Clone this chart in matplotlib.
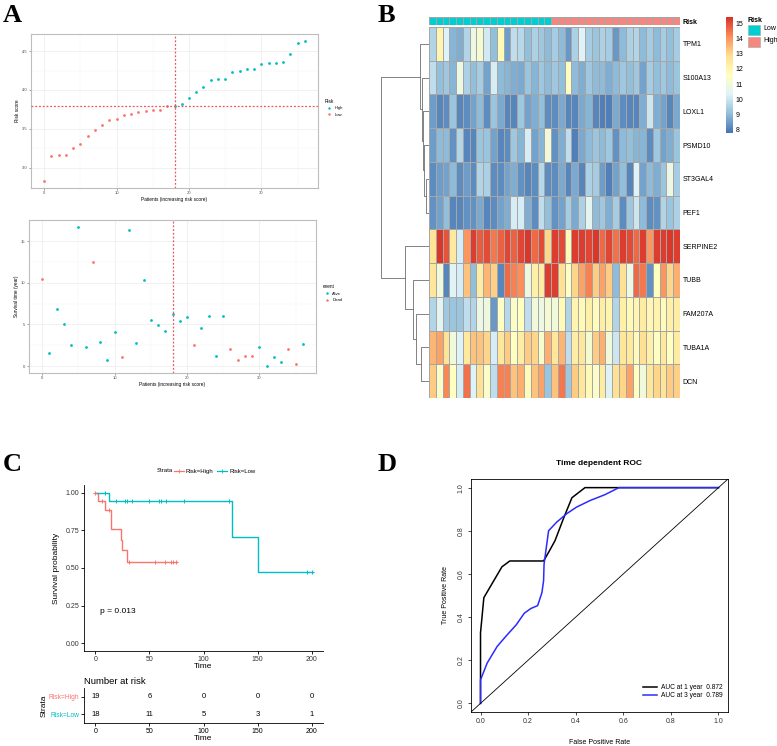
import numpy as np
import matplotlib
matplotlib.use("Agg")
import matplotlib.pyplot as plt
from matplotlib.colors import LinearSegmentedColormap, ListedColormap
from matplotlib.lines import Line2D
from matplotlib.patches import Rectangle

plt.rcParams['font.family'] = ['Liberation Sans', 'DejaVu Sans']

W, H = 777, 746
RED = '#F8766D'
CYAN = '#00BFC4'

# ---------------- panel A data ----------------
risk_score = [2.83, 3.146, 3.16, 3.17, 3.25, 3.30, 3.41, 3.48, 3.545, 3.61,
              3.63, 3.68, 3.69, 3.72, 3.725, 3.74, 3.74, 3.79, 3.80, 3.815,
              3.90, 3.98, 4.04, 4.125, 4.14, 4.14, 4.23, 4.245, 4.27, 4.275,
              4.33, 4.35, 4.35, 4.355, 4.46, 4.60, 4.63]
risk_group = ['Low'] * 18 + ['High'] * 19
risk_cut = 3.795
cut_patient = 18

surv_time = [10.52, 1.6, 6.84, 5.08, 2.52, 16.72, 2.32, 12.56, 2.84, 0.76,
             4.12, 1.08, 16.32, 2.8, 10.32, 5.48, 4.92, 4.2, 6.2, 5.4,
             5.88, 2.48, 4.6, 6.0, 1.16, 6.0, 2.0, 0.72, 1.16, 1.16,
             2.32, 0.0, 1.12, 0.52, 2.08, 0.2, 2.64]
surv_event = ['Dead', 'Alive', 'Alive', 'Alive', 'Alive', 'Alive', 'Alive', 'Dead', 'Alive', 'Alive',
              'Alive', 'Dead', 'Alive', 'Alive', 'Alive', 'Alive', 'Alive', 'Alive', 'Alive', 'Alive',
              'Alive', 'Dead', 'Alive', 'Alive', 'Alive', 'Alive', 'Dead', 'Dead', 'Dead', 'Dead',
              'Alive', 'Alive', 'Alive', 'Alive', 'Dead', 'Dead', 'Alive']

# ---------------- panel B data ----------------
genes = ['TPM1', 'S100A13', 'LOXL1', 'PSMD10', 'ST3GAL4', 'PEF1',
         'SERPINE2', 'TUBB', 'FAM207A', 'TUBA1A', 'DCN']
sample_risk = ['Low'] * 18 + ['High'] * 19
TPM1 = [9.6, 12.0, 10.3, 8.9, 8.8, 9.6, 10.8, 11.2, 10.1, 9.1, 11.8, 8.5, 9.8, 9.7, 9.1, 9.5, 9.3, 9.0,
        9.4, 9.0, 8.4, 9.5, 10.3, 9.4, 9.2, 9.5, 9.4, 8.4, 9.0, 9.5, 9.6, 9.0, 9.4, 9.0, 9.4, 9.1, 9.4]
S100A13 = [9.8, 9.1, 9.3, 8.9, 10.8, 9.5, 9.1, 9.4, 8.6, 10.2, 9.0, 8.9, 8.8, 8.7, 9.2, 8.9, 9.3, 9.0,
           9.3, 9.1, 11.5, 9.0, 8.8, 9.3, 9.0, 9.0, 8.8, 9.0, 9.3, 9.1, 9.3, 8.6, 9.4, 9.1, 9.3, 9.0, 9.2]
LOXL1 = [8.5, 8.1, 8.2, 9.2, 8.1, 8.2, 8.6, 9.0, 8.2, 9.2, 8.7, 8.1, 8.1, 9.3, 8.6, 8.8, 9.1, 8.2,
         8.2, 8.7, 8.1, 8.1, 8.7, 8.9, 8.1, 8.0, 8.0, 8.7, 8.2, 8.1, 8.1, 8.8, 10.0, 8.8, 8.6, 8.1, 8.7]
PSMD10 = [8.5, 9.0, 9.0, 8.3, 9.6, 8.1, 8.1, 9.2, 9.2, 8.6, 8.1, 8.2, 9.3, 8.9, 10.2, 8.6, 8.9, 11.0,
          8.3, 8.8, 9.8, 8.0, 8.7, 9.0, 9.2, 9.0, 9.3, 8.3, 9.0, 9.1, 8.9, 8.9, 8.2, 9.3, 8.6, 8.8, 9.2]
ST3GAL4 = [8.2, 8.5, 8.6, 9.0, 8.2, 8.5, 8.2, 9.6, 9.5, 8.2, 8.2, 8.6, 8.8, 8.3, 8.1, 8.2, 9.7, 8.2,
           8.2, 8.7, 8.1, 8.7, 8.1, 9.5, 9.4, 8.5, 8.0, 8.6, 9.1, 8.1, 10.3, 8.6, 9.0, 8.8, 9.2, 10.8, 9.4]
PEF1 = [8.3, 8.6, 9.1, 8.1, 8.1, 8.3, 8.3, 8.7, 8.1, 8.2, 8.6, 8.8, 10.2, 10.2, 8.8, 8.2, 9.8, 9.1,
        8.3, 8.6, 9.4, 8.7, 9.5, 10.5, 9.0, 9.3, 8.8, 9.4, 8.2, 9.3, 10.0, 9.0, 8.2, 8.3, 9.6, 9.2, 9.5]
SERPINE2 = [12.7, 15.3, 14.9, 12.5, 10.2, 14.0, 15.2, 14.8, 15.0, 14.4, 14.7, 15.1, 14.7, 15.1, 15.3, 14.6, 15.0, 13.0,
            15.2, 15.0, 11.8, 15.2, 15.2, 15.1, 15.3, 14.6, 15.1, 14.5, 15.2, 15.0, 14.6, 15.2, 14.0, 15.2, 15.2, 15.3, 15.2]
TUBB = [12.6, 11.0, 8.1, 10.4, 10.2, 13.3, 9.1, 12.4, 13.5, 13.1, 8.1, 14.6, 14.3, 14.1, 10.9, 12.2, 12.4, 15.2,
        15.2, 12.8, 11.5, 13.0, 13.8, 14.3, 13.2, 13.8, 13.2, 9.0, 12.8, 10.8, 14.6, 14.4, 8.3, 11.6, 14.0, 13.0, 13.6]
FAM207A = [9.6, 10.5, 9.3, 9.2, 9.2, 9.8, 9.6, 10.8, 10.9, 8.4, 11.5, 9.7, 11.4, 11.6, 9.8, 11.0, 10.8, 11.2,
           11.0, 11.8, 9.6, 12.0, 11.8, 12.2, 11.7, 12.3, 12.0, 9.6, 12.2, 11.8, 12.0, 12.4, 11.9, 12.1, 11.7, 12.2, 12.3]
TUBA1A = [13.5, 13.8, 12.7, 11.0, 10.3, 12.5, 13.3, 13.3, 13.0, 10.2, 12.6, 13.2, 11.6, 12.3, 13.2, 13.0, 11.3, 13.6,
          12.6, 13.5, 9.8, 12.3, 12.6, 11.2, 13.2, 13.6, 11.0, 10.0, 12.6, 12.5, 11.7, 12.8, 12.2, 11.5, 12.5, 11.6, 12.4]
DCN = [13.2, 11.4, 14.2, 11.6, 10.2, 14.5, 10.3, 12.8, 11.4, 9.8, 14.3, 14.3, 13.3, 13.6, 11.8, 13.3, 13.8, 9.2,
       13.3, 14.4, 9.3, 13.2, 12.6, 11.8, 11.4, 12.4, 10.3, 12.8, 13.0, 13.8, 11.6, 11.0, 12.6, 13.0, 12.7, 13.2, 13.1]
# row clustering: (left, right, height); new nodes numbered from 11
row_merges = [(4, 5, 3.5), (3, 11, 5), (2, 12, 6), (1, 13, 7), (0, 14, 9),
              (9, 10, 8), (8, 16, 13), (7, 17, 16), (6, 18, 24), (15, 19, 48)]

# ---------------- panel C data ----------------
high_t = [0, 2.1, 8.9, 14.1, 23.5, 25.0, 29.0, 75.8]
high_s = [1.0, 0.945, 0.885, 0.76, 0.687, 0.621, 0.542, 0.542]
high_cens_t = [0, 6.5, 13.0, 31.5, 55.5, 64.5, 69.5, 72.0, 74.5]
high_cens_s = [1.0, 0.945, 0.885, 0.542, 0.542, 0.542, 0.542, 0.542, 0.542]
low_t = [0, 12.8, 126.0, 150.5, 201.0]
low_s = [1.0, 0.943, 0.705, 0.471, 0.471]
low_cens_t = [9.0, 19.0, 27.5, 29.5, 33.5, 50.0, 59.0, 61.0, 65.0, 82.0, 124.0, 195.5, 200.5]
low_cens_s = [1.0, 0.943, 0.943, 0.943, 0.943, 0.943, 0.943, 0.943, 0.943, 0.943, 0.943, 0.471, 0.471]
risk_times = [0, 50, 100, 150, 200]
n_risk_high = [19, 6, 0, 0, 0]
n_risk_low = [18, 11, 5, 3, 1]

# ---------------- panel D data ----------------
roc1_fpr = [0.0, 0.0, 0.014, 0.09, 0.123, 0.265, 0.286, 0.313, 0.348, 0.384, 0.439, 1.0]
roc1_tpr = [0.0, 0.327, 0.49, 0.633, 0.66, 0.66, 0.70, 0.754, 0.855, 0.953, 1.0, 1.0]
roc3_fpr = [0.0, 0.0, 0.028, 0.07, 0.109, 0.15, 0.184, 0.212, 0.24, 0.258, 0.265, 0.267,
            0.286, 0.32, 0.362, 0.404, 0.46, 0.522, 0.582, 1.0]
roc3_tpr = [0.0, 0.109, 0.187, 0.264, 0.314, 0.364, 0.418, 0.44, 0.453, 0.513, 0.568, 0.645,
            0.80, 0.84, 0.879, 0.91, 0.94, 0.967, 1.0, 1.0]
auc_labels = ['AUC at 1 year  0.872', 'AUC at 3 year  0.789']


def rect(l, t, r, b):
    return [l / W, 1 - b / H, (r - l) / W, (b - t) / H]


def gg_style(ax):
    for s in ax.spines.values():
        s.set_color('#BDBDBD')
        s.set_linewidth(0.8)
    ax.grid(True, which='major', color='#EBEBEB', lw=0.5)
    ax.grid(True, which='minor', color='#F5F5F5', lw=0.3)
    ax.set_axisbelow(True)
    ax.tick_params(which='major', length=1.5, width=0.4, color='#555555',
                   labelsize=3, labelcolor='#4D4D4D', pad=1)
    ax.tick_params(which='minor', length=0)


fig = plt.figure(figsize=(W / 100, H / 100), dpi=100)

for lab, x, y in [('A', 3, 22), ('B', 378, 22), ('C', 3, 471), ('D', 378, 471)]:
    fig.text(x / W, 1 - y / H, lab, fontsize=19, fontweight='bold',
             family='Liberation Serif', va='baseline')

# ---- A top: risk score
ax = fig.add_axes(rect(31, 34, 318, 188))
gg_style(ax)
pat = np.arange(len(risk_score))
rs = np.array(risk_score)
grp = np.array(risk_group)
ax.scatter(pat[grp == 'High'], rs[grp == 'High'], s=4, color=CYAN, lw=0, zorder=3)
ax.scatter(pat[grp == 'Low'], rs[grp == 'Low'], s=4, color=RED, lw=0, zorder=3)
ax.axvline(cut_patient, color='#E8575A', ls=(0, (1.5, 1.5)), lw=0.9, zorder=4)
ax.axhline(risk_cut, color='#E8575A', ls=(0, (1.5, 1.5)), lw=0.9, zorder=4)
ax.set_xlim(-1.8, 37.8)
ax.set_ylim(2.74, 4.72)
ax.set_xticks([0, 10, 20, 30])
ax.set_xticks([5, 15, 25, 35], minor=True)
ax.set_yticks([3.0, 3.5, 4.0, 4.5])
ax.set_yticks([3.25, 3.75, 4.25], minor=True)
ax.set_xlabel('Patients (increasing risk score)', fontsize=3.4, labelpad=1)
ax.set_ylabel('Risk score', fontsize=3.4, labelpad=1.5)
h = [Line2D([], [], marker='o', ls='', ms=1.8, color=c, mew=0) for c in (CYAN, RED)]
leg = ax.legend(h, ['High', 'Low'], title='Risk', loc='center left', bbox_to_anchor=(1.01, 0.52),
                frameon=False, fontsize=3, title_fontsize=3.4, handletextpad=0.3, labelspacing=0.6)
leg._legend_box.align = 'left'

# ---- A bottom: survival time
ax = fig.add_axes(rect(29, 220, 316, 373))
gg_style(ax)
st = np.array(surv_time)
ev = np.array(surv_event)
ax.scatter(pat[ev == 'Alive'], st[ev == 'Alive'], s=4, color=CYAN, lw=0, zorder=3)
ax.scatter(pat[ev == 'Dead'], st[ev == 'Dead'], s=4, color=RED, lw=0, zorder=3)
ax.axvline(cut_patient, color='#E8575A', ls=(0, (1.5, 1.5)), lw=0.9, zorder=4)
ax.set_xlim(-1.8, 37.8)
ax.set_ylim(-0.84, 17.56)
ax.set_xticks([0, 10, 20, 30])
ax.set_xticks([5, 15, 25, 35], minor=True)
ax.set_yticks([0, 5, 10, 15])
ax.set_yticks([2.5, 7.5, 12.5], minor=True)
ax.set_xlabel('Patients (increasing risk score)', fontsize=3.4, labelpad=1)
ax.set_ylabel('Survival time (year)', fontsize=3.4, labelpad=1.5)
h = [Line2D([], [], marker='o', ls='', ms=1.8, color=c, mew=0) for c in (CYAN, RED)]
leg = ax.legend(h, ['Alive', 'Dead'], title='event', loc='center left', bbox_to_anchor=(1.01, 0.52),
                frameon=False, fontsize=3, title_fontsize=3.4, handletextpad=0.3, labelspacing=0.6)
leg._legend_box.align = 'left'

# ---- B heatmap
expr = np.array([TPM1, S100A13, LOXL1, PSMD10, ST3GAL4, PEF1,
                 SERPINE2, TUBB, FAM207A, TUBA1A, DCN])
cmap = LinearSegmentedColormap.from_list(
    'rdylbu', ['#4575B4', '#91BFDB', '#E0F3F8', '#FFFFBF', '#FEE090', '#FC8D59', '#D73027'])
vmin, vmax = 7.8, 15.4
nrow, ncol = expr.shape

axh = fig.add_axes(rect(429, 27, 680, 398))
mesh = axh.pcolormesh(np.arange(ncol + 1), np.arange(nrow + 1), expr, cmap=cmap,
                      vmin=vmin, vmax=vmax, edgecolors='#A6A6A6', linewidth=0.4)
axh.set_xlim(0, ncol)
axh.set_ylim(nrow, 0)
axh.set_xticks([])
axh.yaxis.tick_right()
axh.set_yticks(np.arange(nrow) + 0.5)
axh.set_yticklabels(genes, fontsize=5)
axh.tick_params(axis='y', length=0, pad=2)
for s in axh.spines.values():
    s.set_visible(False)

axb = fig.add_axes(rect(429, 17, 680, 25))
grp_code = np.array([[0 if g == 'Low' else 1 for g in sample_risk]])
axb.pcolormesh(np.arange(ncol + 1), [0, 1], grp_code, cmap=ListedColormap(['#00CED1', '#F4877F']),
               vmin=0, vmax=1, edgecolors='#A6A6A6', linewidth=0.4)
axb.set_xlim(0, ncol)
axb.set_xticks([])
axb.yaxis.tick_right()
axb.set_yticks([0.5])
axb.set_yticklabels(['Risk'], fontsize=5, fontweight='bold')
axb.tick_params(axis='y', length=0, pad=2)
for s in axb.spines.values():
    s.set_visible(False)

# row dendrogram
axd = fig.add_axes(rect(380, 27, 429, 398))
pos = {i: (i + 0.5, 0.0) for i in range(nrow)}
for k, (a, b, hgt) in enumerate(row_merges):
    ya, ha = pos[a]
    yb, hb = pos[b]
    axd.plot([ha, hgt, hgt, hb], [ya, ya, yb, yb], color='#6E6E6E', lw=0.6)
    pos[nrow + k] = ((ya + yb) / 2, hgt)
axd.set_xlim(49, 0)
axd.set_ylim(nrow, 0)
axd.axis('off')

# color key
axc = fig.add_axes(rect(726, 17, 733, 133))
cb = fig.colorbar(mesh, cax=axc, ticks=range(8, 16))
cb.outline.set_visible(False)
axc.tick_params(length=0, labelsize=5, pad=2)

fig.text(748 / W, 1 - 21 / H, 'Risk', fontsize=5, fontweight='bold', va='center')
for i, (lab, col) in enumerate([('Low', '#00CED1'), ('High', '#F4877F')]):
    top = 25 + 12 * i
    fig.add_artist(Rectangle((748 / W, 1 - (top + 10) / H), 12 / W, 10 / H,
                             transform=fig.transFigure, facecolor=col, edgecolor='#A6A6A6', lw=0.4))
    fig.text(763 / W, 1 - (top + 4) / H, lab, fontsize=5, va='center')

# ---- C Kaplan-Meier
ax = fig.add_axes(rect(84, 485, 323, 651))
ax.step(high_t, high_s, where='post', color=RED, lw=1)
ax.step(low_t, low_s, where='post', color=CYAN, lw=1)
ax.plot(high_cens_t, high_cens_s, ls='', marker='+', ms=3.5, mew=0.7, color=RED)
ax.plot(low_cens_t, low_cens_s, ls='', marker='+', ms=3.5, mew=0.7, color=CYAN)
ax.set_xlim(-10.5, 210.5)
ax.set_ylim(-0.05, 1.05)
ax.set_xticks(risk_times)
ax.set_yticks([0, 0.25, 0.5, 0.75, 1.0])
ax.set_yticklabels(['0.00', '0.25', '0.50', '0.75', '1.00'])
for s in ('top', 'right'):
    ax.spines[s].set_visible(False)
for s in ('left', 'bottom'):
    ax.spines[s].set_linewidth(0.6)
ax.tick_params(length=2, width=0.6, labelsize=5, pad=1.5, labelcolor='#333333')
ax.set_xlabel('Time', fontsize=6, labelpad=0)
ax.set_ylabel('Survival probability', fontsize=6, labelpad=4)
ax.text(4, 0.2, 'p = 0.013', fontsize=6)

fig.text(157 / W, 1 - 471 / H, 'Strata', fontsize=4.3, va='center')
h = [Line2D([], [], color=RED, lw=0.9, marker='+', ms=3, mew=0.6),
     Line2D([], [], color=CYAN, lw=0.9, marker='+', ms=3, mew=0.6)]
fig.legend(h, ['Risk=High', 'Risk=Low'], ncol=2, loc='center left',
           bbox_to_anchor=(171 / W, 1 - 471 / H), frameon=False, fontsize=4.3,
           handlelength=1.6, handletextpad=0.4, columnspacing=0.6, borderpad=0)

# risk table
ax = fig.add_axes(rect(84, 688, 323, 723))
for t, n in zip(risk_times, n_risk_high):
    ax.text(t, 1, str(n), ha='center', va='center', fontsize=5.5)
for t, n in zip(risk_times, n_risk_low):
    ax.text(t, 0, str(n), ha='center', va='center', fontsize=5.5)
ax.set_xlim(-10.5, 210.5)
ax.set_ylim(-0.5, 1.5)
ax.set_xticks(risk_times)
ax.set_yticks([1, 0])
ax.set_yticklabels(['Risk=High', 'Risk=Low'], fontsize=4.8)
ax.get_yticklabels()[0].set_color(RED)
ax.get_yticklabels()[1].set_color(CYAN)
for s in ('top', 'right'):
    ax.spines[s].set_visible(False)
for s in ('left', 'bottom'):
    ax.spines[s].set_linewidth(0.6)
ax.tick_params(length=2, width=0.6, labelsize=5, pad=1.5)
ax.tick_params(axis='y', labelsize=4.8)
ax.set_xlabel('Time', fontsize=6, labelpad=0)
ax.set_ylabel('Strata', fontsize=6, labelpad=1)
ax.set_title('Number at risk', loc='left', fontsize=6.8, pad=3)

# ---- D ROC
ax = fig.add_axes(rect(471, 479, 728, 712))
ax.plot(roc1_fpr, roc1_tpr, color='black', lw=1.1, label=auc_labels[0])
ax.plot(roc3_fpr, roc3_tpr, color='#2B2BFF', lw=1.1, label=auc_labels[1])
ax.axline((0, 0), (1, 1), color='black', lw=0.6)
ax.set_xlim(-0.04, 1.04)
ax.set_ylim(-0.04, 1.04)
ticks = [0, 0.2, 0.4, 0.6, 0.8, 1.0]
ax.set_xticks(ticks)
ax.set_yticks(ticks)
ax.set_xticklabels(['0.0', '0.2', '0.4', '0.6', '0.8', '1.0'])
ax.set_yticklabels(['0.0', '0.2', '0.4', '0.6', '0.8', '1.0'], rotation=90, va='center')
for s in ax.spines.values():
    s.set_linewidth(0.6)
ax.tick_params(length=2.5, width=0.5, labelsize=5, pad=2, labelcolor='#333333')
ax.set_xlabel('False Positive Rate', fontsize=5, labelpad=10)
ax.set_ylabel('True Positive Rate', fontsize=5, labelpad=6)
ax.set_title('Time dependent ROC', fontsize=6, fontweight='bold', pad=10)
ax.legend(loc='upper left', bbox_to_anchor=(0.655, 0.135), frameon=False, fontsize=4.8,
          handlelength=2.2, handletextpad=0.6, labelspacing=0.2, borderpad=0)

fig.savefig('out.png', dpi=100)
